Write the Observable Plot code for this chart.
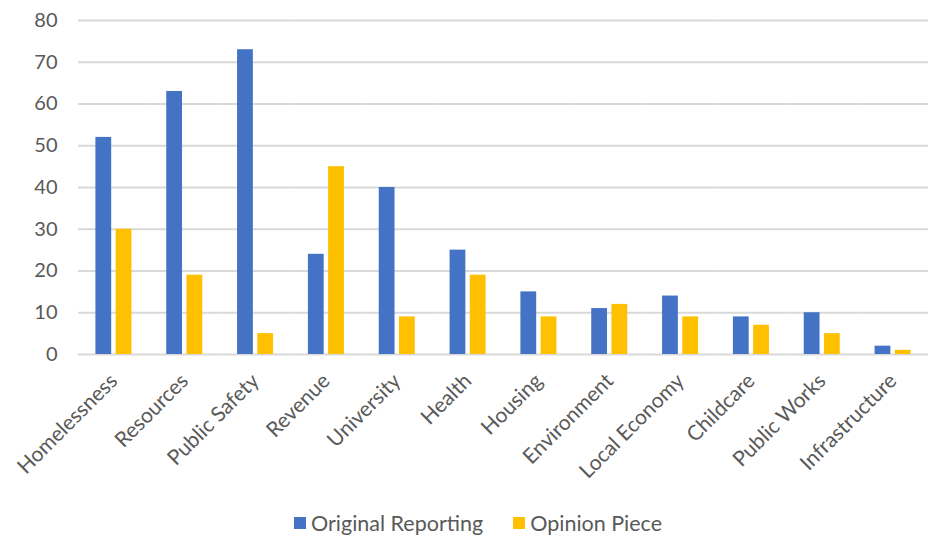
<!DOCTYPE html>
<html>
<head>
<meta charset="utf-8">
<script src="https://cdn.jsdelivr.net/npm/d3@7"></script>
<script src="https://cdn.jsdelivr.net/npm/@observablehq/plot@0.6"></script>
<style>
  html, body { margin: 0; padding: 0; background: #fff; }
  body { width: 932px; height: 537px; overflow: hidden; font-family: Lato, "Open Sans", sans-serif; }
  #chart { height: 500px; }
  #chart svg { display: block; }
  #legend { display: flex; justify-content: center; align-items: center; gap: 30px; height: 46px; margin-top: 0; margin-left: 24px; font-size: 21.5px; color: #595959; }
  .item { display: flex; align-items: center; gap: 5px; }
  .sw { width: 12px; height: 12px; display: inline-block; }
</style>
</head>
<body>
<div id="chart"></div>
<div id="legend"></div>
<script>
const categories = ["Homelessness", "Resources", "Public Safety", "Revenue", "University", "Health", "Housing", "Environment", "Local Economy", "Childcare", "Public Works", "Infrastructure"];
const originalReporting = [52, 63, 73, 24, 40, 25, 15, 11, 14, 9, 10, 2];
const opinionPiece = [30, 19, 5, 45, 9, 19, 9, 12, 9, 7, 5, 1];
const seriesNames = ["Original Reporting", "Opinion Piece"];
const seriesColors = ["#4472C4", "#FFC000"];
const yTicks = [0, 10, 20, 30, 40, 50, 60, 70, 80];

const data = categories.flatMap((c, i) => [
  {category: c, series: seriesNames[0], value: originalReporting[i]},
  {category: c, series: seriesNames[1], value: opinionPiece[i]}
]);

const chart = Plot.plot({
  width: 932,
  height: 500,
  marginTop: 20,
  marginBottom: 146,
  marginLeft: 78,
  marginRight: 4,
  style: {fontFamily: "Lato, 'Open Sans', sans-serif", color: "#595959", background: "#fff"},
  fx: {domain: categories, padding: 0, round: false, label: null},
  x: {domain: seriesNames, paddingInner: 0.22, paddingOuter: 0.86, round: false, axis: null},
  y: {domain: [0, 80], label: null},
  color: {domain: seriesNames, range: seriesColors},
  marks: [
    Plot.ruleY(yTicks, {stroke: "#d9d9d9", strokeWidth: 2}),
    Plot.barY(data, {fx: "category", x: "series", y: "value", fill: "series"}),
    Plot.axisY({ticks: yTicks, tickSize: 0, tickPadding: 21, fontSize: 20, label: null, fill: "#595959"}),
    Plot.axisFx({anchor: "bottom", tickRotate: -45, tickSize: 0, tickPadding: 23, fontSize: 21, label: null, fill: "#595959"})
  ]
});
document.getElementById("chart").appendChild(chart);

const legend = document.getElementById("legend");
seriesNames.forEach((name, i) => {
  const item = document.createElement("div");
  item.className = "item";
  const sw = document.createElement("span");
  sw.className = "sw";
  sw.style.background = seriesColors[i];
  const label = document.createElement("span");
  label.textContent = name;
  item.appendChild(sw);
  item.appendChild(label);
  legend.appendChild(item);
});
</script>
</body>
</html>
